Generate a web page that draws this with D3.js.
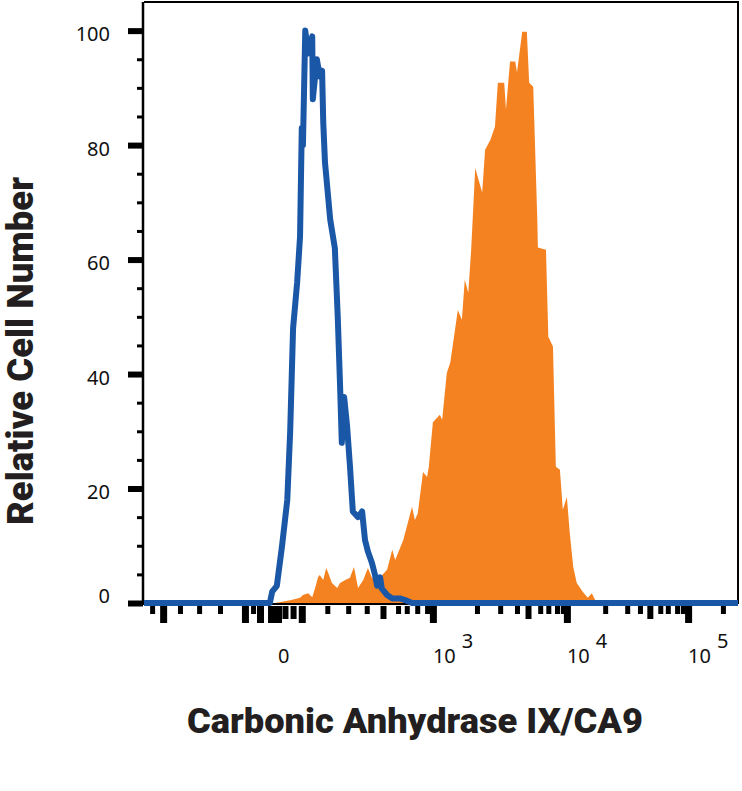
<!DOCTYPE html>
<html>
<head>
<meta charset="utf-8">
<script src="https://cdn.jsdelivr.net/npm/d3@7/dist/d3.min.js"></script>
<style>
  html, body { margin: 0; padding: 0; background: #fff; }
  svg { display: block; }
</style>
</head>
<body>
<div id="chart"></div>
<script>
// Histogram data, x in display channels (0-1024), y in relative cell number
const blueChannels = [0, 217, 221, 229, 238, 247, 252, 257, 264, 269, 272, 274, 278, 283, 290,
  291, 298, 303, 307, 309, 312, 321, 329, 334, 338, 341, 345, 350, 355, 360,
  369, 376, 381, 386, 393, 398, 402, 407, 410, 419, 428, 441, 453, 462, 1024];
const blueCounts = [0, 0, 2, 3, 10, 18, 30, 48, 56, 64, 83, 80, 100, 96, 99,
  88, 95, 92, 93, 84, 77, 67, 62, 50, 38, 28, 36, 31, 24, 16,
  15, 16, 11, 9, 7, 5, 3, 4.5, 2.5, 1.4, 0.8, 0.8, 0.4, 0, 0];

const orangeChannels = [226, 252, 269, 274, 283, 290, 295, 300, 303, 309, 314, 317, 324, 333, 338,
  347, 355, 362, 369, 378, 386, 393, 400, 407, 419, 428, 433, 447, 462, 467,
  472, 481, 488, 491, 498, 510, 514, 522, 528, 533, 541, 548, 553, 559, 564,
  571, 583, 588, 597, 605, 610, 621, 624, 631, 640, 643, 652, 660, 664, 671,
  678, 679, 693, 697, 705, 710, 717, 722, 729, 734, 740, 746, 757, 765, 772, 778, 783];
const orangeCounts = [0, 0.5, 0.9, 1.4, 1.7, 1.0, 2.6, 4.5, 4.9, 4.0, 6.1, 5.4, 3.5, 2.6, 3.5,
  4.0, 4.4, 6.3, 2.6, 4.0, 6.1, 4.4, 4.0, 4.5, 5.8, 9.3, 7.5, 11.0, 16.8, 14.5,
  15.7, 22.9, 22.0, 23.8, 31.6, 32.9, 32.0, 40.2, 42.0, 45.5, 51.2, 49.5, 56.5, 54.2, 61.7,
  76.0, 71.7, 79.2, 80.9, 83.2, 90.9, 90.9, 86.2, 94.6, 94.6, 92.7, 99.8, 99.8, 90.9, 90.2,
  67.0, 62.1, 61.7, 46.5, 44.8, 23.8, 23.3, 16.3, 18.5, 12.2, 6.3, 3.5, 1.9, 0.9, 1.7, 0.5, 0];

// x axis ticks (channel positions of the logicle-style scale)
const xTicksLong = [33, 174, 200, 219, 231, 272, 498, 729, 938];
const xTicksMedium = [243, 257, 412, 662, 872];
const xTicksShort = [14, 62, 95, 131, 188, 316, 352, 384, 438, 453, 471, 488, 574, 614, 643,
  683, 697, 712, 722, 795, 833, 855, 890, 903, 919, 929, 998];
const xLabelChannels = [231, 498, 729, 938];
const xLabelBase = ["0", "10", "10", "10"];
const xLabelExp = ["", "3", "4", "5"];

// y axis ticks
const yMajorTicks = [0, 20, 40, 60, 80, 100];
const yMinorTicks = [5, 10, 15, 25, 30, 35, 45, 50, 55, 65, 70, 75, 85, 90, 95];

const blueColor = "#1b57a7";
const orangeColor = "#f58220";
const inkColor = "#231f20";

const width = 742, height = 791;
const plotLeft = 144, plotRight = 738, plotTop = 2, plotBottom = 603;

const svg = d3.select("#chart").append("svg")
  .attr("width", width)
  .attr("height", height)
  .style("background", "#fff");

const x = d3.scaleLinear().domain([0, 1024]).range([plotLeft, plotRight]);
const y = d3.scaleLinear().domain([0, 105]).range([plotBottom, plotTop]);

// frame: top and right lines
svg.append("path")
  .attr("d", `M${x(0)},${y(105)} H${x(1024)} V${y(0) + 1}`)
  .attr("fill", "none")
  .attr("stroke", "#000")
  .attr("stroke-width", 2);

// bottom line
svg.append("line")
  .attr("x1", x(0)).attr("x2", x(1024))
  .attr("y1", y(0) + 1).attr("y2", y(0) + 1)
  .attr("stroke", "#000")
  .attr("stroke-width", 2);

// y axis - minor ticks
const yMinor = svg.append("g")
  .attr("transform", `translate(${plotLeft - 1},0)`)
  .call(d3.axisLeft(y).tickValues(yMinorTicks).tickSize(6).tickFormat(""));
yMinor.select(".domain").remove();
yMinor.selectAll(".tick line").attr("stroke", "#000").attr("stroke-width", 3);

// y axis - major ticks and labels
const yMajor = svg.append("g")
  .attr("transform", `translate(${plotLeft - 1},0)`)
  .call(d3.axisLeft(y).tickValues(yMajorTicks).tickSize(15).tickSizeOuter(0).tickPadding(18));
yMajor.select(".domain")
  .attr("d", `M0,${y(105)}V${y(0) + 2}`)
  .attr("stroke", "#000")
  .attr("stroke-width", 2.5);
yMajor.selectAll(".tick line").attr("stroke", "#000").attr("stroke-width", 6);
yMajor.selectAll(".tick text")
  .attr("font-family", "'Noto Sans', 'Open Sans', sans-serif")
  .attr("font-size", 20)
  .attr("fill", "#111")
  .attr("dy", d => d === 0 ? "-1px" : "10px");

// x axis ticks (three lengths)
function xTickGroup(values, size, strokeW) {
  const g = svg.append("g")
    .attr("transform", `translate(0,${y(0) + 3})`)
    .call(d3.axisBottom(x).tickValues(values).tickSize(size).tickFormat(""));
  g.select(".domain").remove();
  g.selectAll(".tick line").attr("stroke", "#000").attr("stroke-width", strokeW);
}
xTickGroup(xTicksShort, 8, 5);
xTickGroup(xTicksMedium, 13, 6);
xTickGroup(xTicksLong, 17, 7);

// x tick labels
const xLabels = svg.append("g")
  .attr("font-family", "'Noto Sans', 'Open Sans', sans-serif")
  .attr("font-size", 20)
  .attr("fill", "#111");
xLabelChannels.forEach((c, i) => {
  const t = xLabels.append("text")
    .attr("x", x(c))
    .attr("y", 663);
  t.append("tspan").text(xLabelBase[i]);
  if (xLabelExp[i]) {
    t.append("tspan")
      .attr("dx", 6)
      .attr("dy", -15)
      .text(xLabelExp[i]);
  }
});

// orange filled histogram
const orangeData = orangeChannels.map((c, i) => ({ c, v: orangeCounts[i] }));
svg.append("path")
  .datum(orangeData)
  .attr("fill", orangeColor)
  .attr("d", d3.area()
    .x(d => x(d.c))
    .y0(y(0))
    .y1(d => y(d.v)));

// blue outline histogram
const blueData = blueChannels.map((c, i) => ({ c, v: blueCounts[i] }));
svg.append("path")
  .datum(blueData)
  .attr("fill", "none")
  .attr("stroke", blueColor)
  .attr("stroke-width", 6)
  .attr("stroke-linejoin", "round")
  .attr("d", d3.line()
    .x(d => x(d.c))
    .y(d => y(d.v)));

// axis titles
svg.append("text")
  .attr("transform", "translate(33,351) rotate(-90)")
  .attr("text-anchor", "middle")
  .attr("font-family", "Roboto, 'Liberation Sans', sans-serif")
  .attr("font-weight", 900)
  .attr("font-size", 36)
  .attr("fill", inkColor)
  .attr("textLength", 348)
  .attr("lengthAdjust", "spacingAndGlyphs")
  .text("Relative Cell Number");

svg.append("text")
  .attr("x", 415)
  .attr("y", 733)
  .attr("text-anchor", "middle")
  .attr("font-family", "Roboto, 'Liberation Sans', sans-serif")
  .attr("font-weight", 900)
  .attr("font-size", 35)
  .attr("fill", inkColor)
  .attr("textLength", 456)
  .attr("lengthAdjust", "spacingAndGlyphs")
  .text("Carbonic Anhydrase IX/CA9");
</script>
</body>
</html>
